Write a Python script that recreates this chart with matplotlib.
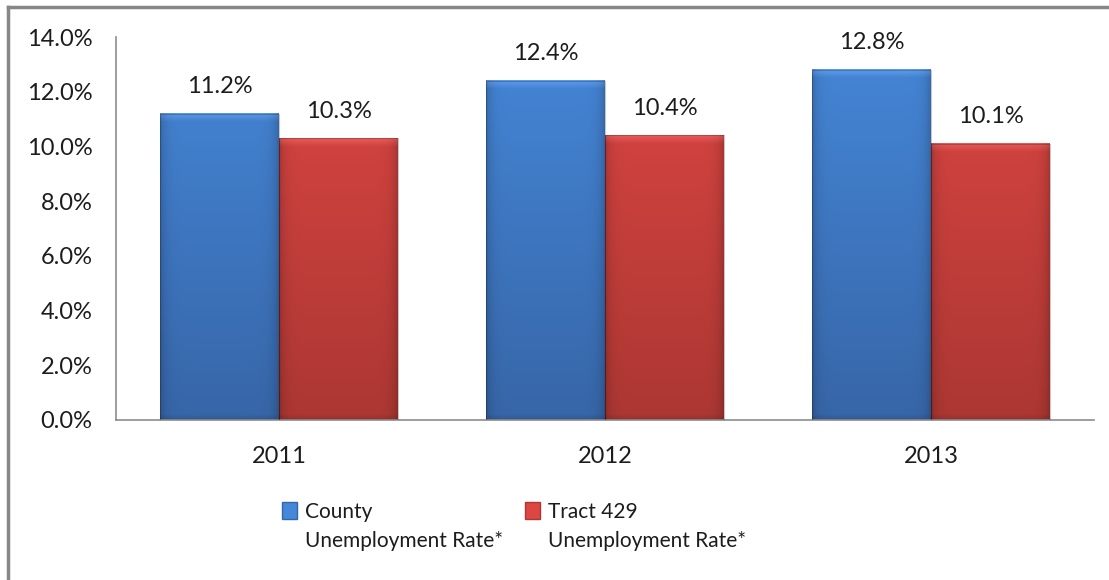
import numpy as np
import matplotlib
matplotlib.use('Agg')
import matplotlib.pyplot as plt
from matplotlib.patches import Patch
from matplotlib.lines import Line2D
from matplotlib.colors import to_rgb

years = ['2011', '2012', '2013']
county = [11.2, 12.4, 12.8]
tract = [10.3, 10.4, 10.1]
series_names = ['County', 'Tract 429']
series_sub = 'Unemployment Rate*'
yticks = [0, 2, 4, 6, 8, 10, 12, 14]

blue_top, blue_bot = '#4587d8', '#3766a8'
red_top, red_bot = '#dc4643', '#ac3733'
txt_color = '#1c1c1c'
axis_color = '#8c8c8c'

plt.rcParams['font.family'] = ['Lato', 'DejaVu Sans']
plt.rcParams['font.size'] = 17

fig = plt.figure(figsize=(11.09, 5.8), dpi=100)
ax = fig.add_axes([116/1109, 1-420/580, 978/1109, 383/580])

x = np.arange(len(years))
w = 0.365
b1 = ax.bar(x - w/2, county, w, color='none', edgecolor='none', zorder=2)
b2 = ax.bar(x + w/2, tract, w, color='none', edgecolor='none', zorder=2)


def grad_fill(bars, c_top, c_bot):
    top = np.array(to_rgb(c_top))
    bot = np.array(to_rgb(c_bot))
    for p in bars:
        x0, y0 = p.get_x(), p.get_y()
        bw, bh = p.get_width(), p.get_height()
        n, m = 300, 120
        yy = np.linspace(bh, 0, n)  # row 0 = top
        t = (1 - yy / 14.0)[:, None, None]
        col = top * (1 - t) + bot * t
        col = np.broadcast_to(col, (n, m, 3)).copy()
        xx = np.linspace(-1, 1, m)
        side = 1 - 0.18 * np.abs(xx) ** 10
        col *= side[None, :, None]
        # soft bevel at the top
        d = bh - yy
        lift = np.clip(1 - d / 0.3, 0, 1)[:, None, None] * 0.10
        col = np.clip(col + lift, 0, 1)
        base = np.clip(1 - yy / 0.2, 0, 1)[:, None, None] * 0.12
        col *= (1 - base)
        ax.imshow(col, extent=[x0, x0 + bw, y0, y0 + bh], aspect='auto',
                  zorder=2, interpolation='bilinear')
        ax.add_patch(plt.Rectangle((x0, y0), bw, bh, fill=False,
                                   edgecolor=(0, 0, 0, 0.22), lw=0.8, zorder=3))


grad_fill(b1, blue_top, blue_bot)
grad_fill(b2, red_top, red_bot)

for bars, vals in ((b1, county), (b2, tract)):
    for p, v in zip(bars, vals):
        ax.annotate(f'{v:.1f}%', (p.get_x() + p.get_width()/2, v),
                    xytext=(0, 12), textcoords='offset points',
                    ha='center', va='bottom', color=txt_color, fontsize=17)

ax.set_xlim(-0.5, 2.5)
ax.set_ylim(0, 14)
ax.set_xticks(x)
ax.set_xticklabels(years)
ax.set_yticks(yticks)
ax.set_yticklabels([f'{v:.1f}%' for v in yticks])
ax.tick_params(axis='y', length=0, pad=17, colors=txt_color)
ax.tick_params(axis='x', length=0, pad=19, colors=txt_color)
for s in ['top', 'right']:
    ax.spines[s].set_visible(False)
for s in ['left', 'bottom']:
    ax.spines[s].set_color(axis_color)
    ax.spines[s].set_linewidth(1.2)
ax.set_facecolor('none')

# legend
handles = [Patch(facecolor=blue_top, edgecolor=blue_bot),
           Patch(facecolor=red_top, edgecolor=red_bot)]
leg = fig.legend(handles, series_names, ncol=2, loc='upper left',
                 bbox_to_anchor=(282/1109, 1-502/580), frameon=False,
                 borderpad=0, borderaxespad=0, handlelength=0.7,
                 handleheight=0.85, handletextpad=0.4, columnspacing=7.35,
                 labelcolor=txt_color, fontsize=15)
fig.canvas.draw()
r = fig.canvas.get_renderer()
for t in leg.get_texts():
    bb = t.get_window_extent(r)
    fig.text(bb.x0 / fig.bbox.width, (bb.y0 - 29) / fig.bbox.height, series_sub,
             ha='left', va='bottom', color=txt_color, fontsize=15)

# outer chart border (top and left visible)
fig.add_artist(Line2D([8/1109, 1], [1-7/580, 1-7/580], color='#878787', lw=2.5,
                      transform=fig.transFigure))
fig.add_artist(Line2D([8/1109, 8/1109], [0, 1-7/580], color='#878787', lw=2.5,
                      transform=fig.transFigure))

fig.savefig('out.png', dpi=100, facecolor='white')
